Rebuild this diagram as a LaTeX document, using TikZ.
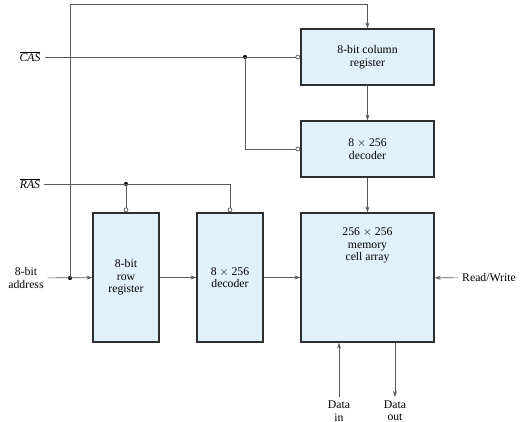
\documentclass[tikz,border=0pt]{standalone}
\usepackage{fontspec}
\setmainfont{Liberation Serif}
\usetikzlibrary{positioning,arrows.meta,calc}

\definecolor{cellblue}{HTML}{E1F1FB}
\definecolor{wiregray}{HTML}{5A5A5A}
\definecolor{edgegray}{HTML}{2E2E2E}

\begin{document}
\begin{tikzpicture}[
    x=0.03cm, y=-0.03cm,
    >={Stealth[length=5pt,width=3.4pt]},
    every node/.style={font=\fontsize{10}{10.6}\selectfont, align=center},
    block/.style={draw=edgegray, line width=1.3pt, fill=cellblue, inner sep=0pt},
    wideblock/.style={block, minimum width=3.99cm, minimum height=1.68cm},
    tallblock/.style={block, minimum width=1.98cm, minimum height=3.87cm},
    wire/.style={line width=0.6pt, wiregray},
    flowarrow/.style={wire, ->},
    bubble/.style={wire, -{Circle[open, length=4pt, width=4pt]}},
    dot/.style={circle, fill=black, inner sep=0pt, minimum size=3.5pt},
]
\useasboundingbox (0,0) rectangle (521,422);

% ---- Column path ----
\node[wideblock] (colreg) at (367.5,57) {8-bit column\\register};
\node[wideblock] (coldec) at (367.5,149) {8 $\times$ 256\\decoder};

% ---- Row path ----
\node[tallblock] (rowreg) at (126,277.5) {8-bit\\row\\register};
\node[tallblock] (rowdec) at (230,277.5) {8 $\times$ 256\\decoder};
\node[block, minimum width=3.99cm, minimum height=3.87cm] (array) at (367.5,277.5) {};
\node (arraytxt) at ([yshift=0.96cm]array.center) {256 $\times$ 256\\memory\\cell array};

% ---- Input / output labels ----
\node (cas) at (30,57) {$\overline{\textit{CAS}}$};
\node (ras) at (30,184) {$\overline{\textit{RAS}}$};
\node (addr) at (26,278) {8-bit\\address};
\node (rw) at (489,278) {Read/Write};
\node (din) at (339,411) {Data\\in};
\node (dout) at (395,411) {Data\\out};

% ---- Junctions ----
\node[dot] (addrdot) at (70,278) {};
\node[dot] (casdot) at (245,57) {};
\node[dot] (rasdot) at (126,184) {};
\coordinate (top) at (70,4);

% ---- Address ----
\draw[flowarrow] (addr) -- (rowreg);
\draw[flowarrow] (addrdot.center) -- (top) -| (colreg.north);

% ---- Strobes ----
\draw[bubble] (cas) -- (colreg.west);
\draw[bubble] (casdot.center) |- (coldec.west);
\draw[bubble] (ras) -| (rowdec.north);
\draw[bubble] (rasdot.center) -- (rowreg.north);

% ---- Data flow ----
\draw[flowarrow] (colreg) -- (coldec);
\draw[flowarrow] (coldec) -- (array);
\draw[flowarrow] (rowreg) -- (rowdec);
\draw[flowarrow] (rowdec) -- (array);
\draw[flowarrow] (rw) -- (array);
\draw[flowarrow] (din) -- (din |- array.south);
\draw[flowarrow] (dout |- array.south) -- (dout);

\end{tikzpicture}
\end{document}
